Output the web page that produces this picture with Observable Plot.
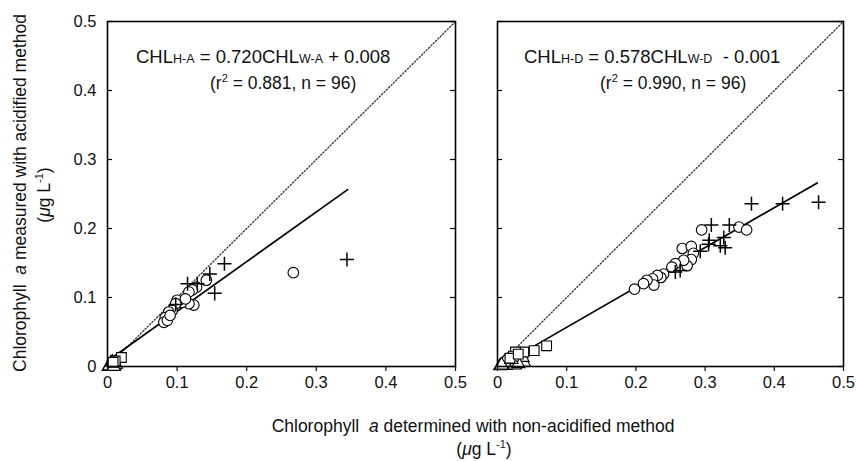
<!DOCTYPE html>
<html>
<head>
<meta charset="utf-8">
<script src="https://cdn.jsdelivr.net/npm/d3@7"></script>
<script src="https://cdn.jsdelivr.net/npm/@observablehq/plot@0.6"></script>
<style>
  html, body { margin: 0; padding: 0; background: #fff; }
  #wrap { position: relative; width: 856px; height: 461px; font-family: "Liberation Sans", Arial, sans-serif; color: #111; overflow: hidden; }
  #wrap svg { position: absolute; top: 0; }
  .t { position: absolute; white-space: nowrap; line-height: 1; }
  .eq { font-size: 18.5px; }
  .sc { font-size: 12.5px; }
  .r2 { font-size: 17.5px; }
  .ttl { font-size: 17.5px; }
</style>
</head>
<body>
<div id="wrap"></div>
<script>
// ---- axis ticks ----
const axisTicks = [0, 0.1, 0.2, 0.3, 0.4, 0.5];
const tickLabels = ["0", "0.1", "0.2", "0.3", "0.4", "0.5"];
const oneToOne = [0, 0.5];

// ---- regression fits (slope, intercept, x-range) ----
const fitSlopes = [0.720, 0.578];
const fitIntercepts = [0.008, -0.001];
const fitRangeA = [0, 0.345];
const fitRangeD = [0.003, 0.462];

// ---- Panel A (acidified) ----
const circA_x = [0.267, 0.142, 0.128, 0.122, 0.117, 0.124, 0.117, 0.107, 0.100, 0.098, 0.093, 0.088, 0.083, 0.081, 0.086, 0.090, 0.112];
const circA_y = [0.136, 0.125, 0.115, 0.111, 0.108, 0.089, 0.091, 0.093, 0.096, 0.091, 0.081, 0.079, 0.071, 0.064, 0.067, 0.074, 0.098];
const plusA_x = [0.168, 0.344, 0.147, 0.154, 0.115, 0.129, 0.098];
const plusA_y = [0.149, 0.155, 0.134, 0.106, 0.120, 0.120, 0.090];
const sqA_x = [0.020, 0.011, 0.008];
const sqA_y = [0.013, 0.008, 0.006];
const triA_x = [0.002, 0.004, 0.006, 0.008, 0.010, 0.005, 0.012, 0.003, 0.007, 0.009];
const triA_y = [0.000, 0.002, 0.001, 0.004, 0.002, 0.005, 0.003, 0.001, 0.006, 0.000];

// ---- Panel D ----
const circD_x = [0.349, 0.360, 0.295, 0.267, 0.280, 0.283, 0.280, 0.274, 0.269, 0.257, 0.252, 0.240, 0.236, 0.231, 0.224, 0.226, 0.216, 0.211, 0.198];
const circD_y = [0.202, 0.198, 0.198, 0.171, 0.174, 0.164, 0.155, 0.146, 0.154, 0.149, 0.144, 0.134, 0.129, 0.132, 0.127, 0.118, 0.125, 0.120, 0.112];
const plusD_x = [0.367, 0.412, 0.464, 0.335, 0.309, 0.306, 0.305, 0.327, 0.322, 0.329, 0.293, 0.264, 0.257];
const plusD_y = [0.236, 0.236, 0.238, 0.205, 0.205, 0.183, 0.177, 0.187, 0.175, 0.172, 0.167, 0.139, 0.137];
const sqD_x = [0.071, 0.053, 0.038, 0.026, 0.023, 0.018, 0.030];
const sqD_y = [0.030, 0.023, 0.021, 0.021, 0.015, 0.012, 0.018];
const triD_x = [0.019, 0.012, 0.038, 0.036, 0.008, 0.004, 0.015, 0.025, 0.010, 0.006, 0.030, 0.020];
const triD_y = [0.004, 0.0015, 0.006, 0.013, 0.003, 0.001, 0.008, 0.002, 0.006, 0.002, 0.004, 0.010];

const pts = (xs, ys) => xs.map((x, i) => ({x, y: ys[i]}));
const fmt = d => tickLabels[axisTicks.indexOf(d)];

function panel({width, marginLeft, marginRight, showYLabels, circ, plus, sq, tri, slope, intercept, range}) {
  const H = 400, mt = 21, mb = 34;
  const pw = width - marginLeft - marginRight;
  const marks = [
    Plot.line(oneToOne, {x: d => d, y: d => d, stroke: "#333", strokeWidth: 1.3, strokeDasharray: "1.3,2"}),
    Plot.line(range, {x: d => d, y: d => slope * d + intercept, stroke: "#000", strokeWidth: 1.7}),
    Plot.dot(pts(...tri), {x: "x", y: "y", symbol: "triangle", r: 5, fill: "white", stroke: "#000", strokeWidth: 1.1}),
    Plot.dot(pts(...sq), {x: "x", y: "y", symbol: "square", r: 5.5, fill: "white", stroke: "#000", strokeWidth: 1.1}),
    Plot.dot(pts(...circ), {x: "x", y: "y", symbol: "circle", r: 5.3, fill: "white", stroke: "#000", strokeWidth: 1.1}),
    Plot.dot(pts(...plus), {x: "x", y: "y", symbol: "plus", r: 4.6, stroke: "#000", strokeWidth: 1.5}),
    Plot.tickY(axisTicks, {y: d => d, insetRight: pw - 5, stroke: "#000", strokeWidth: 1.2}),
    Plot.tickY(axisTicks, {y: d => d, insetLeft: pw - 5, stroke: "#000", strokeWidth: 1.2}),
    Plot.axisX(axisTicks, {tickSize: 5, tickPadding: 5, tickFormat: fmt, label: null, strokeWidth: 1.2, fontSize: 16.5}),
    Plot.frame({stroke: "#000", strokeWidth: 1.6})
  ];
  if (showYLabels) marks.push(Plot.axisY(axisTicks, {tickSize: 0, tickPadding: 11, tickFormat: fmt, label: null, fontSize: 16.5}));
  return Plot.plot({
    width, height: H, marginLeft, marginRight, marginTop: mt, marginBottom: mb,
    x: {domain: [0, 0.5], axis: null},
    y: {domain: [0, 0.5], axis: null},
    style: {fontFamily: "Liberation Sans, Arial, sans-serif", fontSize: "16.5px", color: "#111", background: "transparent", overflow: "visible"},
    marks
  });
}

const wrap = document.getElementById("wrap");
const left = panel({width: 470, marginLeft: 107, marginRight: 15, showYLabels: true,
  circ: [circA_x, circA_y], plus: [plusA_x, plusA_y], sq: [sqA_x, sqA_y], tri: [triA_x, triA_y],
  slope: fitSlopes[0], intercept: fitIntercepts[0], range: fitRangeA});
left.style.left = "0px";
const right = panel({width: 386, marginLeft: 27, marginRight: 13, showYLabels: false,
  circ: [circD_x, circD_y], plus: [plusD_x, plusD_y], sq: [sqD_x, sqD_y], tri: [triD_x, triD_y],
  slope: fitSlopes[1], intercept: fitIntercepts[1], range: fitRangeD});
right.style.left = "470px";
wrap.appendChild(left);
wrap.appendChild(right);

function addText(html, cls, css) {
  const d = document.createElement("div");
  d.className = "t " + cls;
  d.innerHTML = html;
  Object.assign(d.style, css);
  wrap.appendChild(d);
  return d;
}
addText('CHL<span class="sc">H-A</span> = 0.720CHL<span class="sc">W-A</span> + 0.008', "eq", {left: "136px", top: "48px"});
addText('(r<sup style="font-size:11px">2</sup> = 0.881, n = 96)', "r2", {left: "210px", top: "73px"});
addText('CHL<span class="sc">H-D</span> = 0.578CHL<span class="sc">W-D</span>&nbsp; - 0.001', "eq", {left: "524px", top: "48px"});
addText('(r<sup style="font-size:11px">2</sup> = 0.990, n = 96)', "r2", {left: "600px", top: "73px"});

// axis titles
addText('Chlorophyll&nbsp; <i>a</i> determined with non-acidified method', "ttl", {left: "473px", top: "418px", transform: "translateX(-50%)"});
addText('(<i>μ</i>g L<sup style="font-size:11px">-1</sup>)', "ttl", {left: "484px", top: "439px", transform: "translateX(-50%)"});
addText('Chlorophyll&nbsp; <i>a</i> measured with acidified method', "ttl", {left: "21px", top: "193px", transform: "translate(-50%,-50%) rotate(-90deg)"});
addText('(<i>μ</i>g L<sup style="font-size:11px">-1</sup>)', "ttl", {left: "44px", top: "195px", transform: "translate(-50%,-50%) rotate(-90deg)"});
</script>
</body>
</html>
